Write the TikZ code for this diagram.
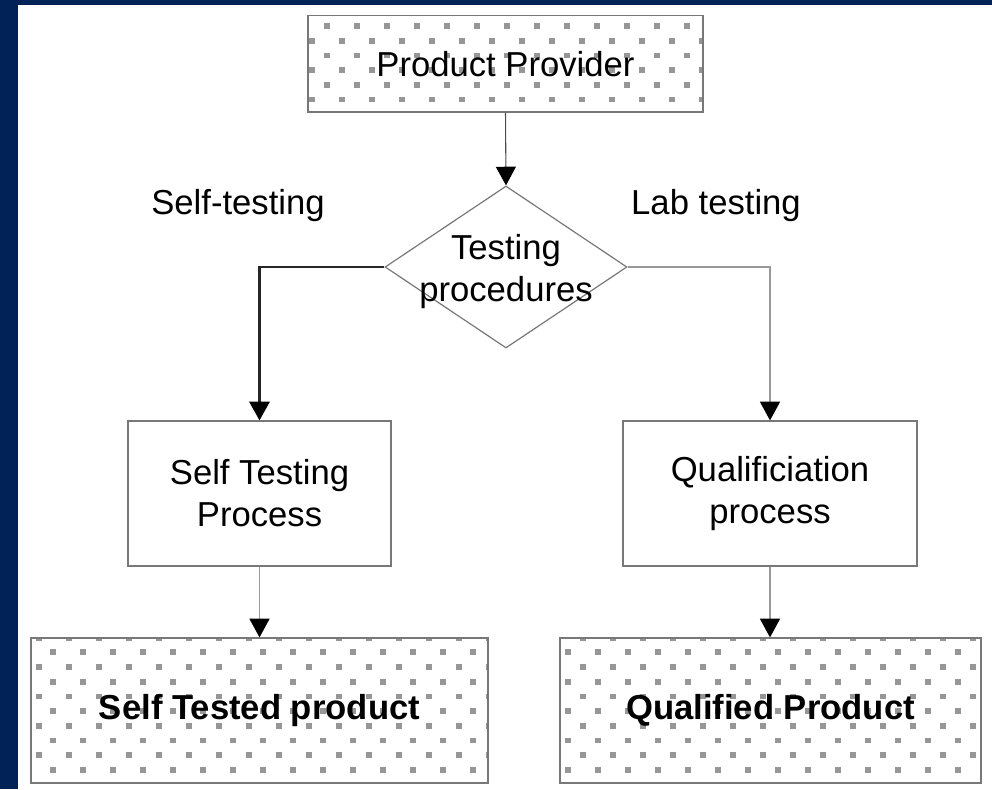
\documentclass[tikz,border=0pt]{standalone}
\usepackage{fontspec}
\setmainfont{Liberation Sans}
\usetikzlibrary{arrows.meta,shapes.geometric}
\definecolor{navy}{RGB}{0,34,86}
\definecolor{dotc}{RGB}{150,150,150}
\definecolor{boxc}{RGB}{120,120,120}
\newcommand\mydots[7]{%
  \begin{scope}
    \clip (#1,#2) rectangle (#3,#4);
    \foreach \r in {0,...,10}{
      \pgfmathsetmacro\yy{#5+14.7*\r}
      \pgfmathsetmacro\xs{isodd(\r) ? #7 : #6}
      \foreach \c in {0,...,16}{
        \pgfmathsetmacro\xx{\xs+30*\c}
        \fill[dotc] (\xx-2.9,\yy-2.9) rectangle (\xx+2.9,\yy+2.9);
      }
    }
  \end{scope}}
\tikzset{
  txt/.style={font=\fontsize{26}{31.5}\selectfont, align=center, text=black},
  box/.style={draw=boxc, line width=0.9pt, rectangle, inner sep=0pt, txt},
  dia/.style={draw=boxc, line width=0.9pt, diamond, inner sep=0pt},
  tip/.style={-{Triangle[width=15pt,length=14pt,color=black,fill=black]}},
  arrA/.style={tip, draw=black!70, line width=0.8pt},
  arrThick/.style={tip, draw=black!85, line width=2.2pt},
  arrLight/.style={tip, draw=black!40, line width=0.9pt},
}
\begin{document}
\begin{tikzpicture}[x=0.75pt,y=-0.75pt]
\useasboundingbox (0,0) rectangle (992,789);
\fill[navy] (0,0) rectangle (992,789);
\fill[white] (18,5) rectangle (992,789);
% dot patterns
\mydots{308}{15.5}{703}{112}{26}{327}{312}
\mydots{31}{638}{488}{783}{637.6}{39}{53}
\mydots{560}{638}{981}{783}{637.6}{583}{568}
% nodes
\node[box, minimum width=296.25pt, minimum height=72.4pt] (pp) at (505.5,63.75) {Product Provider};
\node[dia, minimum width=181.5pt, minimum height=121.5pt] (dia) at (506,267) {};
\node[txt] (diat) at (506,272) {Testing\\procedures};
\node[txt, anchor=base] (lself) at (238,214) {Self-testing};
\node[txt, anchor=base] (llab) at (716,214) {Lab testing};
\node[box, minimum width=197.25pt, minimum height=108.75pt] (stp) at (259.5,493.5) {Self Testing\\Process};
\node[box, minimum width=220.5pt, minimum height=108.75pt] (qp) at (770,493.5) {Qualificiation\\process};
\node[box, minimum width=342.75pt, minimum height=108.75pt, font=\fontsize{26}{31.5}\selectfont\bfseries] (stprod) at (259.5,710.5) {Self Tested product};
\node[box, minimum width=315.75pt, minimum height=108.75pt, font=\fontsize{26}{31.5}\selectfont\bfseries] (qprod) at (770.5,710.5) {Qualified Product};
% connectors
\draw[arrA] (pp.south) -- (dia.north);
\draw[arrThick] (dia.west) -| (stp.north);
\draw[arrLight] (dia.east) -| (qp.north);
\draw[arrLight] (stp.south) -- (stprod.north);
\draw[arrLight] (qp.south) -- (qp.south |- qprod.north);
\end{tikzpicture}
\end{document}
